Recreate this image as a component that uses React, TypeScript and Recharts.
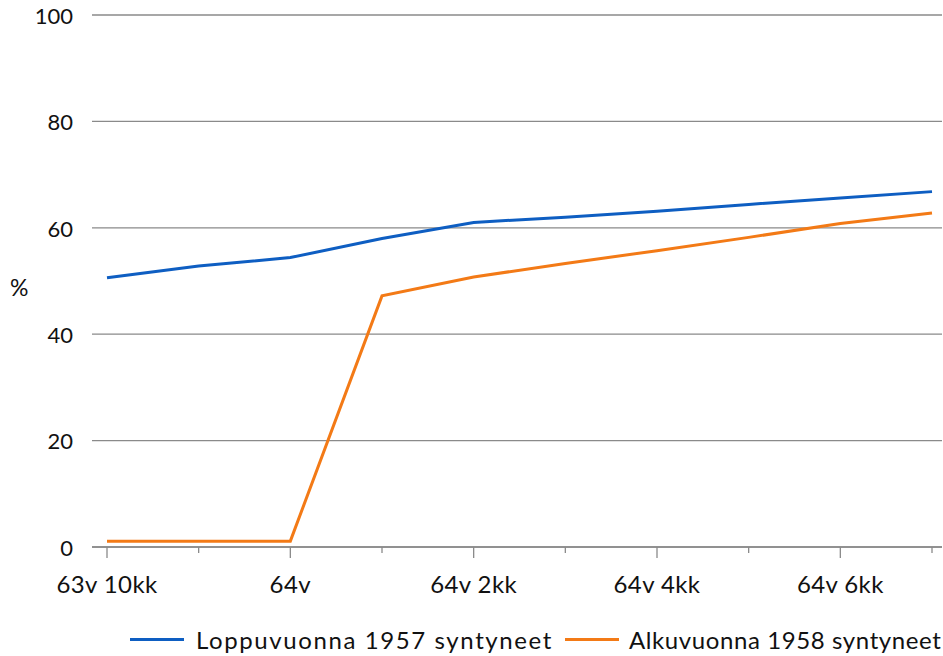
import { LineChart, Line, XAxis, YAxis, CartesianGrid, Legend } from "recharts";

const ages = [
  "63v 10kk", "63v 11kk", "64v", "64v 1kk", "64v 2kk",
  "64v 3kk", "64v 4kk", "64v 5kk", "64v 6kk", "64v 7kk",
];
const born1957 = [50.6, 52.8, 54.4, 58.0, 61.0, 62.0, 63.1, 64.4, 65.6, 66.8];
const born1958 = [1.1, 1.1, 1.1, 47.2, 50.75, 53.3, 55.7, 58.2, 60.8, 62.8];
const yTicks = [0, 20, 40, 60, 80, 100];

const seriesNames = ["Loppuvuonna 1957 syntyneet", "Alkuvuonna 1958 syntyneet"];
const seriesColors = ["#0E5EC2", "#F37A16"];

const data = ages.map((age, i) => ({ age, a: born1957[i], b: born1958[i] }));

const FONT = "Lato, 'Noto Sans', sans-serif";
const GRID = "#8a8a8a";

// legend item placement, as in the original
const legendLeft = [130, 565];
const legendGap = [12, 10];
const legendSpacing = [1.6, 0.6];

const XTick = (props: any) => {
  const { x, y, payload, index } = props;
  const major = index % 2 === 0;
  return (
    <g>
      <line x1={x} x2={x} y1={y} y2={y + (major ? 11 : 6)} stroke={GRID} strokeWidth={1.3} />
      {major && (
        <text x={x} y={y + 46} textAnchor="middle" fontSize={24} letterSpacing={0.4} fontFamily={FONT} fill="#111">
          {payload.value}
        </text>
      )}
    </g>
  );
};

const LegendContent = () => (
  <div style={{ position: "relative", height: 52, fontFamily: FONT, fontSize: 24, color: "#111" }}>
    {seriesNames.map((name, i) => (
      <div
        key={name}
        style={{
          position: "absolute",
          left: legendLeft[i],
          top: 26,
          display: "flex",
          alignItems: "center",
          whiteSpace: "nowrap",
          letterSpacing: legendSpacing[i],
        }}
      >
        <span style={{ display: "inline-block", width: 54, height: 3, background: seriesColors[i], marginRight: legendGap[i] }} />
        <span>{name}</span>
      </div>
    ))}
  </div>
);

export default function App() {
  return (
    <div style={{ position: "absolute", left: 0, top: 0, width: 943, height: 656, background: "#fff" }}>
      <LineChart width={943} height={656} data={data} margin={{ top: 15, right: 1, left: 0, bottom: 5 }}>
        <CartesianGrid vertical={false} stroke={GRID} strokeWidth={1.3} />
        <XAxis
          dataKey="age"
          interval={0}
          padding={{ left: 15, right: 10 }}
          tickSize={0}
          tickMargin={0}
          tick={<XTick />}
          axisLine={{ stroke: GRID, strokeWidth: 1.3 }}
          height={52}
        />
        <YAxis
          domain={[0, 100]}
          ticks={yTicks}
          width={92}
          tickLine={false}
          axisLine={false}
          tickSize={0}
          tickMargin={19}
          tick={{ fontSize: 22, fontFamily: FONT, fill: "#111", dy: 1 }}
          label={{ value: "%", position: "insideLeft", dx: 5, dy: 7, fontSize: 23, fontFamily: FONT, fill: "#111" }}
        />
        <Legend verticalAlign="bottom" height={52} content={<LegendContent />} />
        <Line dataKey="a" name={seriesNames[0]} stroke={seriesColors[0]} strokeWidth={3} dot={false} isAnimationActive={false} />
        <Line dataKey="b" name={seriesNames[1]} stroke={seriesColors[1]} strokeWidth={3} dot={false} isAnimationActive={false} />
      </LineChart>
    </div>
  );
}
